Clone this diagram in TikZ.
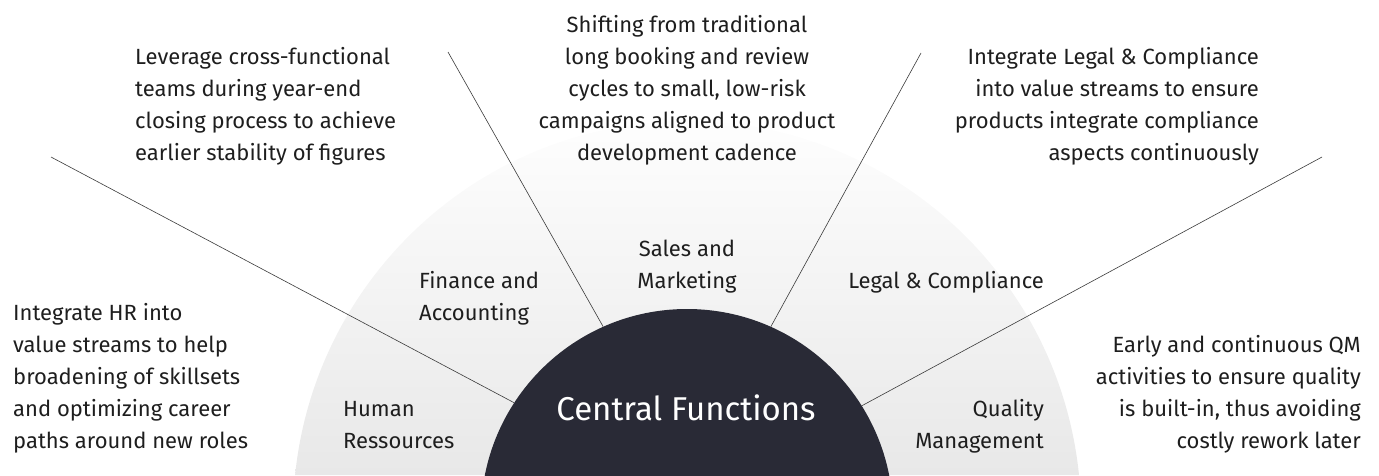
\documentclass[tikz,border=0pt]{standalone}
\usepackage{fontspec}
\setmainfont{Fira Sans}
\usepackage{tikz}
\usetikzlibrary{shapes, positioning}

\definecolor{navy}{HTML}{292A36}
\definecolor{inkgray}{HTML}{1E1E1E}
\definecolor{rulegray}{HTML}{3A3A3A}

\begin{document}
\begin{tikzpicture}[x=1pt, y=1pt]
        % Define block styles
        \tikzstyle{note} = [inner sep=0pt, text=inkgray, font=\fontsize{22}{32}\selectfont]
        \tikzstyle{unit} = [inner sep=0pt, text=inkgray, font=\fontsize{22}{32}\selectfont]
        \tikzstyle{hub} = [circle, fill=navy, minimum size=412pt, inner sep=0pt]
        \tikzstyle{spoke} = [draw=rulegray, line width=0.6pt]

        \useasboundingbox (0,0) rectangle (1379,475);

        % Background half disc
        \shade[top color=white, bottom color=black!9] (1079,0) arc[start angle=5.83, end angle=174.17, radius=394] -- cycle;

        % Define nodes
        \node [hub] (central) at (687,-40) {};
        \node [anchor=base, text=white, inner sep=0pt, font=\fontsize{33}{40}\selectfont] (centraltext) at (686,55) {Central Functions};

        \node [unit, anchor=base west, align=left] (hrlabel) at (343,27) {Human\\Ressources};
        \node [unit, anchor=base west, align=left] (finlabel) at (419,155) {Finance and\\Accounting};
        \node [unit, anchor=base, align=center] (saleslabel) at (687,187) {Sales and\\Marketing};
        \node [unit, anchor=base east, align=right] (legallabel) at (1044,187) {Legal \& Compliance};
        \node [unit, anchor=base east, align=right] (qmlabel) at (1044,27) {Quality\\Management};

        \node [note, anchor=base west, align=left] (hrnote) at (13,27) {Integrate HR into\\value streams to help\\broadening of skillsets\\and optimizing career\\paths around new roles};
        \node [note, anchor=base west, align=left] (finnote) at (135,315) {Leverage cross-functional\\teams during year-end\\closing process to achieve\\earlier stability of figures};
        \node [note, anchor=base, align=center] (salesnote) at (687,315) {Shifting from traditional\\long booking and review\\cycles to small, low-risk\\campaigns aligned to product\\development cadence};
        \node [note, anchor=base east, align=right] (legalnote) at (1259,315) {Integrate Legal \& Compliance\\into value streams to ensure\\products integrate compliance\\aspects continuously};
        \node [note, anchor=base east, align=right] (qmnote) at (1361,27) {Early and continuous QM\\activities to ensure quality\\is built-in, thus avoiding\\costly rework later};

        % Free ends of the spokes
        \coordinate (hrend) at (51,318);
        \coordinate (finend) at (448,423);
        \coordinate (legalend) at (921,422);
        \coordinate (qmend) at (1322,318);

        % Connect nodes with paths
        \draw[spoke] (central.147.7) -- (hrend);
        \draw[spoke] (central.114.6) -- (finend);
        \draw[spoke] (central.66.6) -- (legalend);
        \draw[spoke] (central.32.3) -- (qmend);

    \end{tikzpicture}
\end{document}
